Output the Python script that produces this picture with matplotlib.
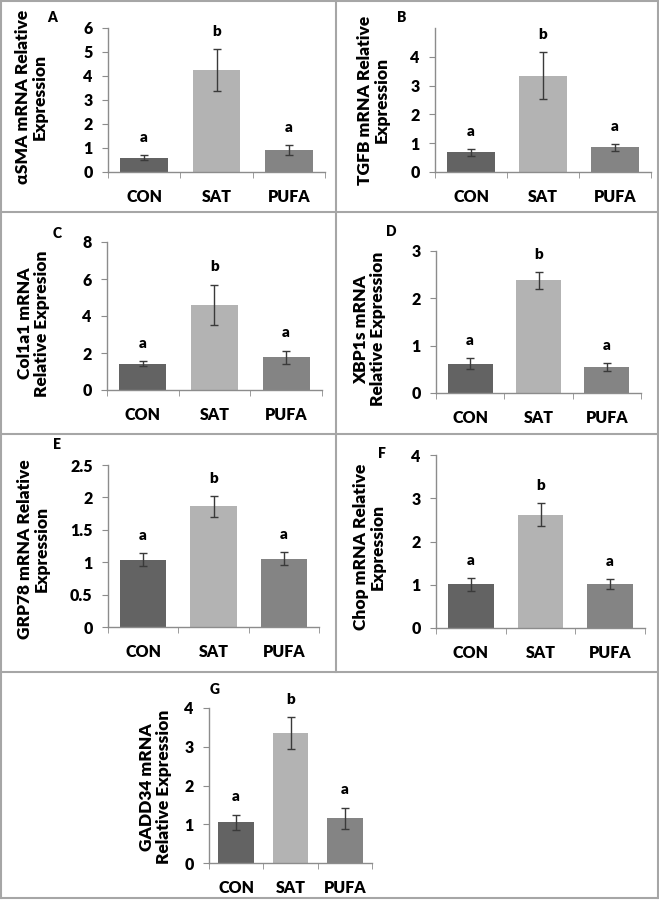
import matplotlib
matplotlib.use("Agg")
import matplotlib.pyplot as plt
from matplotlib.lines import Line2D

plt.rcParams["font.family"] = ["Lato", "DejaVu Sans"]
plt.rcParams["font.weight"] = 800

W, H = 659, 901

categories = ["CON", "SAT", "PUFA"]
bar_colors = ["#636363", "#b3b3b3", "#848484"]

# panel A - aSMA
asma_mean = [0.60, 4.25, 0.91]
asma_err = [0.09, 0.89, 0.22]
# panel B - TGFB
tgfb_mean = [0.68, 3.35, 0.86]
tgfb_err = [0.11, 0.82, 0.12]
# panel C - Col1a1
col1a1_mean = [1.42, 4.60, 1.77]
col1a1_err = [0.13, 1.10, 0.36]
# panel D - XBP1s
xbp1s_mean = [0.62, 2.38, 0.55]
xbp1s_err = [0.12, 0.18, 0.08]
# panel E - GRP78
grp78_mean = [1.04, 1.86, 1.05]
grp78_err = [0.10, 0.16, 0.10]
# panel F - Chop
chop_mean = [1.01, 2.62, 1.02]
chop_err = [0.15, 0.27, 0.12]
# panel G - GADD34
gadd34_mean = [1.05, 3.36, 1.15]
gadd34_err = [0.20, 0.41, 0.28]

sig_letters = ["a", "b", "a"]

# (letter, ylabel, mean, err, ymax, yticks, axes box px (x0, y0, x1, y1),
#  letter pos px, label right edge px, label centre as axes fraction)
panels = [
    ("A", "αSMA mRNA Relative\nExpression", asma_mean, asma_err, 6, [0, 1, 2, 3, 4, 5, 6],
     (108, 28, 325, 172), (52, 17), 48, 0.52),
    ("B", "TGFB mRNA Relative\nExpression", tgfb_mean, tgfb_err, 5, [0, 1, 2, 3, 4],
     (435, 28, 651, 172), (402, 17), 390, 0.5),
    ("C", "Col1a1 mRNA\nRelative Expresion", col1a1_mean, col1a1_err, 8, [0, 2, 4, 6, 8],
     (107, 242, 322, 390), (57, 234), 50, 0.45),
    ("D", "XBP1s mRNA\nRelative Expression", xbp1s_mean, xbp1s_err, 3, [0, 1, 2, 3],
     (436, 251, 641, 393), (391, 232), 386, 0.45),
    ("E", "GRP78 mRNA Relative\nExpression", grp78_mean, grp78_err, 2.5, [0, 0.5, 1, 1.5, 2, 2.5],
     (108, 465, 319, 627), (57, 445), 50, 0.48),
    ("F", "Chop mRNA Relative\nExpression", chop_mean, chop_err, 4, [0, 1, 2, 3, 4],
     (436, 455, 645, 628), (382, 453), 386, 0.47),
    ("G", "GADD34 mRNA\nRelative Expression", gadd34_mean, gadd34_err, 4, [0, 1, 2, 3, 4],
     (209, 708, 372, 863), (215, 690), 172, 0.49),
]

fig = plt.figure(figsize=(W / 100, H / 100), dpi=100)

axis_gray = "#8c8c8c"

for letter, ylabel, mean, err, ymax, yticks, box, lpos, lab_x, lab_y in panels:
    x0, y0, x1, y1 = box
    ax = fig.add_axes([x0 / W, 1 - y1 / H, (x1 - x0) / W, (y1 - y0) / H])
    xs = range(len(categories))
    ax.bar(xs, mean, width=0.66, color=bar_colors, zorder=2)
    ax.errorbar(xs, mean, yerr=err, fmt="none", ecolor="#3a3a3a",
                elinewidth=1, capsize=3, capthick=1, zorder=3)
    for x, m, e, s in zip(xs, mean, err, sig_letters):
        ax.annotate(s, (x, m + e), xytext=(0, 8), textcoords="offset points",
                    ha="center", va="bottom", fontsize=11, fontweight=800)
    ax.set_xlim(-0.5, 2.5)
    ax.set_ylim(0, ymax)
    ax.set_yticks(yticks)
    ax.set_yticklabels([f"{t:g}" for t in yticks])
    ax.set_xticks(list(xs))
    ax.set_xticklabels(categories)
    ax.set_xticks([-0.5, 0.5, 1.5, 2.5], minor=True)
    ax.tick_params(axis="x", which="major", length=0, pad=12, labelsize=11.5)
    ax.tick_params(axis="x", which="minor", length=4, color=axis_gray, direction="out")
    ax.tick_params(axis="y", length=4, color=axis_gray, pad=7, labelsize=11.5)
    for lab in ax.get_xticklabels() + ax.get_yticklabels():
        lab.set_fontweight(800)
    for side in ["top", "right"]:
        ax.spines[side].set_visible(False)
    for side in ["left", "bottom"]:
        ax.spines[side].set_color(axis_gray)
        ax.spines[side].set_linewidth(1)
    ax.set_ylabel(ylabel, fontsize=12.5, fontweight=800, linespacing=1.05)
    ax.yaxis.set_label_coords((lab_x - x0) / (x1 - x0), lab_y)
    fig.text(lpos[0] / W, 1 - lpos[1] / H, letter, ha="center", va="center",
             fontsize=10, fontweight=800)

# panel frame lines
border = "#a6a6a6"


def hline(y, xa, xb):
    fig.add_artist(Line2D([xa / W, xb / W], [1 - y / H, 1 - y / H], color=border, lw=1.5))


def vline(x, ya, yb):
    fig.add_artist(Line2D([x / W, x / W], [1 - ya / H, 1 - yb / H], color=border, lw=1.5))


hline(1, 0, W)
hline(212, 0, W)
hline(434, 0, W)
hline(672, 0, W)
hline(898, 0, W)
vline(1, 0, 898)
vline(W - 1, 0, 898)
vline(336, 0, 672)

fig.savefig("out.png", dpi=100, facecolor="white")
